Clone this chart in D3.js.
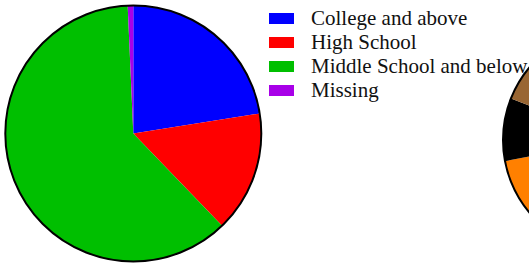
<!DOCTYPE html>
<html>
<head>
<meta charset="utf-8">
<script src="https://cdn.jsdelivr.net/npm/d3@7"></script>
<style>
  body { margin: 0; background: #fff; }
  svg { display: block; }
</style>
</head>
<body>
<div id="container"></div>
<script>
const width = 529,
  height = 265

/* DATA */
const categories = ["College and above", "High School", "Middle School and below", "Missing"]
const values = [22.5, 15.3, 61.5, 0.7]
const colors = ["#0000ff", "#ff0000", "#00bf00", "#a800e8"]

// second pie, only its left part shows in the picture
const values2 = [30, 26, 16, 9, 12, 7]
const colors2 = ["#3366cc", "#cc3333", "#ff8000", "#000000", "#996633", "#999999"]

// CREATE SVG ELEMENT
const svg = d3.select("#container")
  .append("svg")
  .attr("width", width)
  .attr("height", height)

const pieGen = d3.pie()
  .sort(null)
  .value(d => d)

// FIRST PIE
const r1 = 128
const g1 = svg.append("g")
  .attr("transform", `translate(133.3,133.5)`)

const arc1 = d3.arc().innerRadius(0).outerRadius(r1)

g1.selectAll("path")
  .data(pieGen(values))
  .join("path")
  .attr("fill", (d, i) => colors[i])
  .attr("d", arc1)

g1.append("circle")
  .attr("r", r1)
  .attr("fill", "none")
  .attr("stroke", "black")
  .attr("stroke-width", 2)

// SECOND PIE
const r2 = 113
const g2 = svg.append("g")
  .attr("transform", `translate(616,140)`)

const arc2 = d3.arc().innerRadius(0).outerRadius(r2)

g2.selectAll("path")
  .data(pieGen(values2))
  .join("path")
  .attr("fill", (d, i) => colors2[i])
  .attr("d", arc2)

g2.append("circle")
  .attr("r", r2)
  .attr("fill", "none")
  .attr("stroke", "black")
  .attr("stroke-width", 2)

// LEGEND
const legend = svg.append("g")
  .attr("transform", "translate(269,13)")

const rows = legend.selectAll("g")
  .data(categories)
  .join("g")
  .attr("transform", (d, i) => `translate(0,${i * 24})`)

rows.append("rect")
  .attr("width", 25)
  .attr("height", 11)
  .attr("fill", (d, i) => colors[i])

rows.append("text")
  .attr("x", 42)
  .attr("y", 12)
  .style("font", "21px 'Liberation Serif', serif")
  .attr("fill", "#111")
  .text(d => d)
</script>
</body>
</html>
